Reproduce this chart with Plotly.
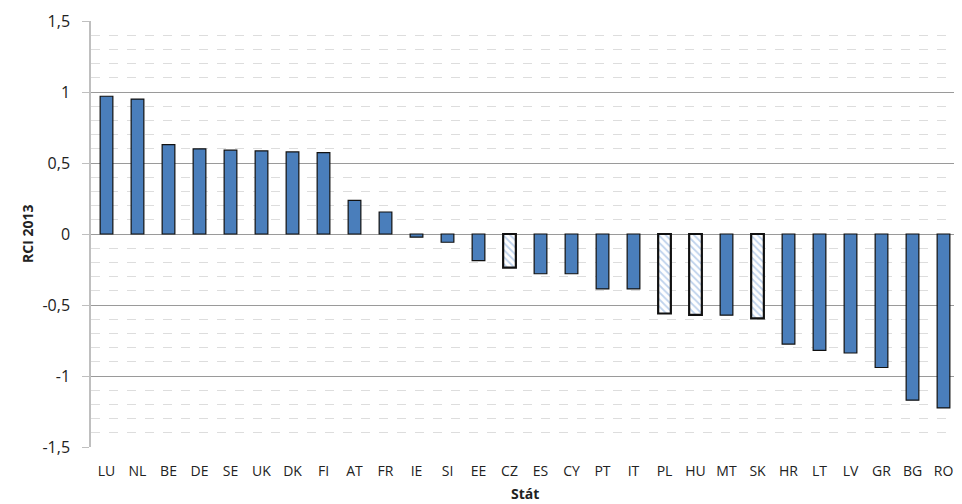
import plotly.graph_objects as go

countries = ["LU", "NL", "BE", "DE", "SE", "UK", "DK", "FI", "AT", "FR", "IE", "SI", "EE", "CZ",
             "ES", "CY", "PT", "IT", "PL", "HU", "MT", "SK", "HR", "LT", "LV", "GR", "BG", "RO"]
rci_2013 = [0.97, 0.95, 0.63, 0.60, 0.59, 0.585, 0.578, 0.573, 0.237, 0.155, -0.022, -0.058, -0.187, -0.237,
            -0.28, -0.28, -0.387, -0.387, -0.56, -0.57, -0.572, -0.594, -0.775, -0.82, -0.838, -0.94, -1.17, -1.225]
hatched = ["CZ", "PL", "HU", "SK"]

y_ticks = [-1.5, -1, -0.5, 0, 0.5, 1, 1.5]
y_tick_labels = ["-1,5", "-1", "-0,5", "0", "0,5", "1", "1,5"]
x_title = "Stát"
y_title = "RCI 2013"

blue = "#4a7ebb"
plain_y = [v if c not in hatched else None for c, v in zip(countries, rci_2013)]
hatch_y = [v if c in hatched else None for c, v in zip(countries, rci_2013)]

fig = go.Figure()
fig.add_trace(go.Bar(
    x=countries, y=plain_y, width=0.41,
    marker=dict(color=blue, line=dict(color="#111111", width=1.2)),
    showlegend=False,
))
fig.add_trace(go.Bar(
    x=countries, y=hatch_y, width=0.41,
    marker=dict(
        color="white",
        line=dict(color="#111111", width=2.2),
        pattern=dict(shape="\\", fgcolor="#7fa6d9", bgcolor="white", size=5, solidity=0.35, fillmode="overlay"),
    ),
    showlegend=False,
))

font_family = "Open Sans, DejaVu Sans, sans-serif"
fig.update_layout(
    width=954, height=496,
    margin=dict(l=83, r=3, t=13, b=57),
    paper_bgcolor="white", plot_bgcolor="white",
    font=dict(family=font_family, size=14, color="#222222"),
    separators=", ",
    barmode="overlay",
    xaxis=dict(
        automargin=False,
        showgrid=False, showline=False, ticks="", zeroline=False,
        ticklabelstandoff=14,
        tickfont=dict(size=14, color="#222222"),
    ),
    yaxis=dict(
        automargin=False,
        range=[-1.5, 1.5], tickvals=y_ticks, ticktext=y_tick_labels,
        showgrid=True, gridcolor="#9a9a9a", gridwidth=1,
        zeroline=True, zerolinecolor="#9a9a9a", zerolinewidth=1,
        showline=True, linecolor="#bfbfbf", linewidth=1.5,
        ticks="outside", ticklen=7, tickcolor="#bfbfbf",
        ticklabelstandoff=9,
        tickfont=dict(size=16, color="#222222"),
        minor=dict(dtick=0.1, showgrid=True, gridcolor="#dddddd", griddash="dash", gridwidth=1, ticks=""),
    ),
    annotations=[
        dict(text="<b>" + x_title + "</b>", xref="paper", yref="paper", x=0.5, y=0,
             xanchor="center", yanchor="middle", yshift=-46, showarrow=False,
             font=dict(size=14, color="#222222")),
        dict(text="<b>" + y_title + "</b>", xref="paper", yref="paper", x=0, y=0.5,
             xanchor="center", yanchor="middle", xshift=-64, textangle=-90, showarrow=False,
             font=dict(size=14, color="#222222")),
    ],
)

fig.write_html("out.html")
